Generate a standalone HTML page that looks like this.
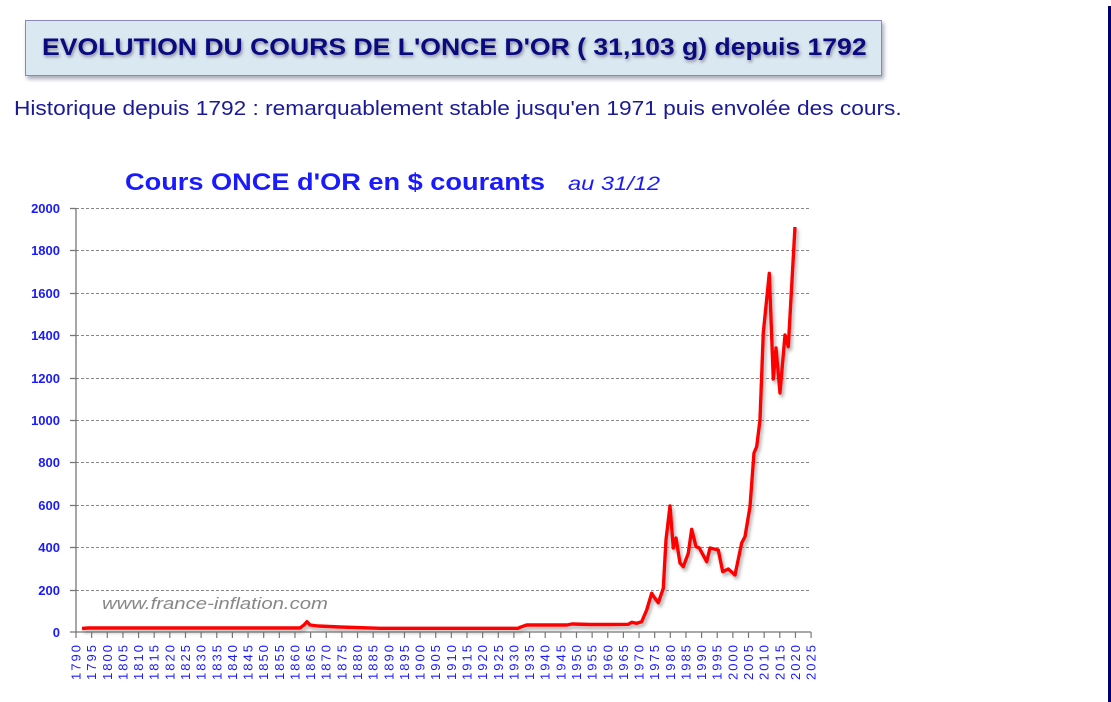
<!DOCTYPE html>
<html><head><meta charset="utf-8"><style>
body{margin:0;width:1111px;height:702px;background:#fff;position:relative;overflow:hidden;font-family:"Liberation Sans",sans-serif}
.box{position:absolute;left:25px;top:20px;width:855px;height:54px;background:#dae8f1;border:1px solid #8888bb;box-shadow:2px 3px 4px #aab}
.box span{position:absolute;left:16px;top:13px;white-space:nowrap;font-weight:bold;font-size:24px;color:#0a0a80;text-shadow:1px 2px 3px #889;transform-origin:0 0;transform:scaleX(1.107)}
.sub{position:absolute;left:14px;top:98px;font-size:20px;color:#1a1a99;white-space:nowrap;transform-origin:0 0;transform:scaleX(1.135)}
.rb{position:absolute;left:1108px;top:6px;width:3px;height:696px;background:#000070}
</style></head><body>
<div class="box"><span>EVOLUTION DU COURS DE L'ONCE D'OR ( 31,103 g) depuis 1792</span></div>
<div class="sub">Historique depuis 1792 : remarquablement stable jusqu'en 1971 puis envolée des cours.</div>
<div class="rb"></div>
<svg width="1111" height="702" style="position:absolute;left:0;top:0">
<defs><filter id="sh" x="-5%" y="-5%" width="110%" height="110%"><feDropShadow dx="2" dy="3" stdDeviation="1.5" flood-color="#666" flood-opacity="0.5"/></filter></defs>
<text x="125" y="190" font-family="Liberation Sans,sans-serif" font-weight="bold" font-size="24" fill="#1a1aff" textLength="420" lengthAdjust="spacingAndGlyphs">Cours ONCE d'OR en $ courants</text>
<text x="568" y="190" font-family="Liberation Sans,sans-serif" font-style="italic" font-size="19" fill="#1a1aff" textLength="92" lengthAdjust="spacingAndGlyphs">au 31/12</text>
<g stroke="#888" stroke-dasharray="3,2" stroke-width="1">
<line x1="76" x2="811" y1="208.5" y2="208.5"/><line x1="76" x2="811" y1="250.5" y2="250.5"/><line x1="76" x2="811" y1="293.5" y2="293.5"/><line x1="76" x2="811" y1="335.5" y2="335.5"/><line x1="76" x2="811" y1="378.5" y2="378.5"/><line x1="76" x2="811" y1="420.5" y2="420.5"/><line x1="76" x2="811" y1="462.5" y2="462.5"/><line x1="76" x2="811" y1="505.5" y2="505.5"/><line x1="76" x2="811" y1="547.5" y2="547.5"/><line x1="76" x2="811" y1="590.5" y2="590.5"/>
</g>
<g stroke="#777" stroke-width="1.3"><line x1="76" y1="208" x2="76" y2="632"/><line x1="70" y1="632" x2="811" y2="632"/>
<line x1="70" y1="208.5" x2="76" y2="208.5"/><line x1="70" y1="250.5" x2="76" y2="250.5"/><line x1="70" y1="293.5" x2="76" y2="293.5"/><line x1="70" y1="335.5" x2="76" y2="335.5"/><line x1="70" y1="378.5" x2="76" y2="378.5"/><line x1="70" y1="420.5" x2="76" y2="420.5"/><line x1="70" y1="462.5" x2="76" y2="462.5"/><line x1="70" y1="505.5" x2="76" y2="505.5"/><line x1="70" y1="547.5" x2="76" y2="547.5"/><line x1="70" y1="590.5" x2="76" y2="590.5"/>
</g>
<g id="xt" stroke="#777" stroke-width="1.2"></g>
<g font-family="Liberation Sans,sans-serif" font-weight="bold" font-size="13" fill="#1a1aff" text-anchor="end">
<text x="60" y="213">2000</text><text x="60" y="255">1800</text><text x="60" y="298">1600</text><text x="60" y="340">1400</text><text x="60" y="383">1200</text><text x="60" y="425">1000</text><text x="60" y="467">800</text><text x="60" y="510">600</text><text x="60" y="552">400</text><text x="60" y="595">200</text><text x="60" y="637">0</text>
</g>
<g id="xl" font-family="Liberation Sans,sans-serif" font-size="13" fill="#1a1aff"></g>
<text x="102" y="609" font-family="Liberation Sans,sans-serif" font-style="italic" font-size="17" fill="#888" textLength="226" lengthAdjust="spacingAndGlyphs">www.france-inflation.com</text>
<polyline filter="url(#sh)" fill="none" stroke="#ff0000" stroke-width="3.4" stroke-linejoin="round" points="82,628.5 88,628 200,628 300,628 304,625 307,621.7 310,625 318,626 340,627 380,628.3 440,628.3 518,628.3 520,627.3 526.7,625 566.7,625 572,624 590,624.5 610,624.5 628.3,624.3 631.7,622.3 636.7,623.3 641.7,621.7 646.7,610 651.7,593.3 654,597 658.3,602.7 663.3,588.3 666,540 670,506 673.3,548 676,538 680,563 683.3,566.7 688.3,553.3 691.7,529.3 696,546.7 699.3,548 706.7,561.7 710,548 718.3,550 722.7,571.7 728.3,569 735,575 741.7,543 745,536.7 750,506.7 754,453 756.7,446.7 760,420 763.3,333 769.3,273.3 773.3,379 776,348 780,393 785,335 788.3,346.7 795,227"/>
</svg>
<script>
var xt=document.getElementById('xt'),xl=document.getElementById('xl'),ns='http://www.w3.org/2000/svg';
for(var i=0;i<=47;i++){var x=76+i*15.64,y=1790+5*i;
var l=document.createElementNS(ns,'line');l.setAttribute('x1',x);l.setAttribute('x2',x);l.setAttribute('y1',632);l.setAttribute('y2',638);xt.appendChild(l);
var t=document.createElementNS(ns,'text');t.setAttribute('transform','translate('+(x+4.5)+',680) rotate(-90)');t.setAttribute('textLength','35');t.setAttribute('lengthAdjust','spacing');t.textContent=y;xl.appendChild(t);}
</script>
</body></html>
